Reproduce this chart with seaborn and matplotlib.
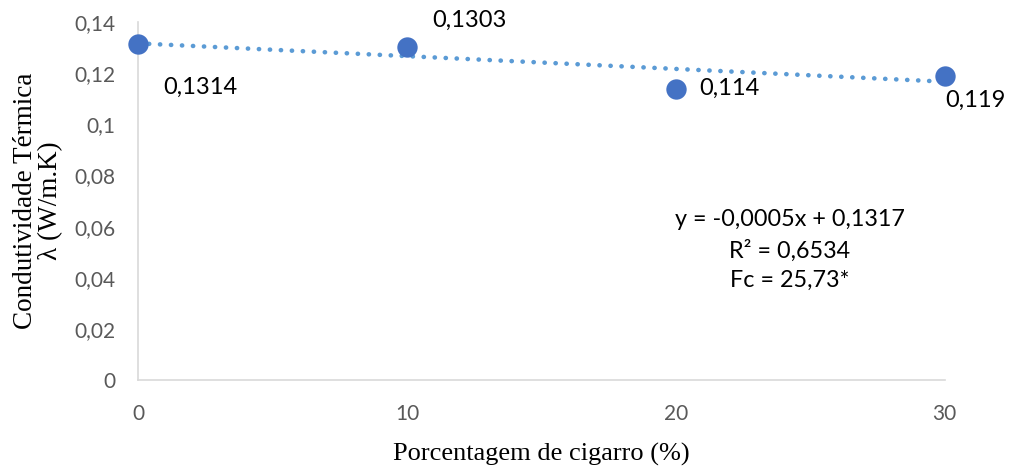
import numpy as np
import pandas as pd
import matplotlib
matplotlib.use("Agg")
import matplotlib.pyplot as plt
import seaborn as sns

# Data
porcentagem = [0, 10, 20, 30]
condutividade = [0.1314, 0.1303, 0.114, 0.119]
rotulos = ["0,1314", "0,1303", "0,114", "0,119"]
slope = -0.0005
intercept = 0.1317
y_ticks = [0, 0.02, 0.04, 0.06, 0.08, 0.10, 0.12, 0.14]
y_ticklabels = ["0", "0,02", "0,04", "0,06", "0,08", "0,1", "0,12", "0,14"]
x_ticks = [0, 10, 20, 30]
x_ticklabels = ["0", "10", "20", "30"]
equation_text = "y = -0,0005x + 0,1317\nR² = 0,6534\nFc = 25,73*"

sns.set_theme(style="white")
tick_font = ["Lato", "DejaVu Sans"]
serif_font = ["Liberation Serif", "DejaVu Serif"]

fig = plt.figure(figsize=(10.11, 4.66), dpi=100)
ax = fig.add_axes([0.1365, 0.1845, 0.798, 0.768])

df = pd.DataFrame({"x": porcentagem, "y": condutividade})
trend = pd.DataFrame({"x": [porcentagem[0], porcentagem[-1]]})
trend["y"] = slope * trend["x"] + intercept

sns.lineplot(data=trend, x="x", y="y", ax=ax, color="#5B9BD5", linewidth=3.3,
             linestyle=(0, (0.05, 2.35)), zorder=2)
ax.lines[-1].set_dash_capstyle("round")
sns.scatterplot(data=df, x="x", y="y", ax=ax, color="#4472C4", s=215,
                edgecolor="#4472C4", linewidth=0, zorder=3)

offsets = [(18, -31), (18, 19), (17, 0), (0, -18)]
for xv, yv, lab, off in zip(porcentagem, condutividade, rotulos, offsets):
    ax.annotate(lab, (xv, yv), xytext=off, textcoords="offset points",
                ha="left", va="center", fontsize=17, color="#000000",
                family=tick_font)

ax.text(0.808, 0.363, equation_text, transform=ax.transAxes, ha="center",
        va="center", fontsize=16.8, color="#000000", family=tick_font,
        linespacing=1.5)

ax.set_xlim(0, 30)
ax.set_ylim(0, 0.14)
ax.set_xticks(x_ticks)
ax.set_xticklabels(x_ticklabels, family=tick_font, fontsize=15, color="#595959")
ax.set_yticks(y_ticks)
ax.set_yticklabels(y_ticklabels, family=tick_font, fontsize=15, color="#595959")
ax.tick_params(axis="both", length=0)
ax.tick_params(axis="x", pad=17)
ax.tick_params(axis="y", pad=16)

ax.set_xlabel("Porcentagem de cigarro (%)", family=serif_font, fontsize=19,
              color="#000000", labelpad=14)
ax.set_ylabel("Condutividade Térmica\nλ (W/m.K)", family=serif_font, fontsize=19.5,
              color="#000000", labelpad=8, linespacing=1.05)

for side in ["top", "right"]:
    ax.spines[side].set_visible(False)
for side in ["left", "bottom"]:
    ax.spines[side].set_color("#D9D9D9")
    ax.spines[side].set_linewidth(1.2)
ax.grid(False)
for coll in ax.collections:
    coll.set_clip_on(False)
for ln in ax.lines:
    ln.set_clip_on(False)

fig.savefig("out.png", dpi=100)
